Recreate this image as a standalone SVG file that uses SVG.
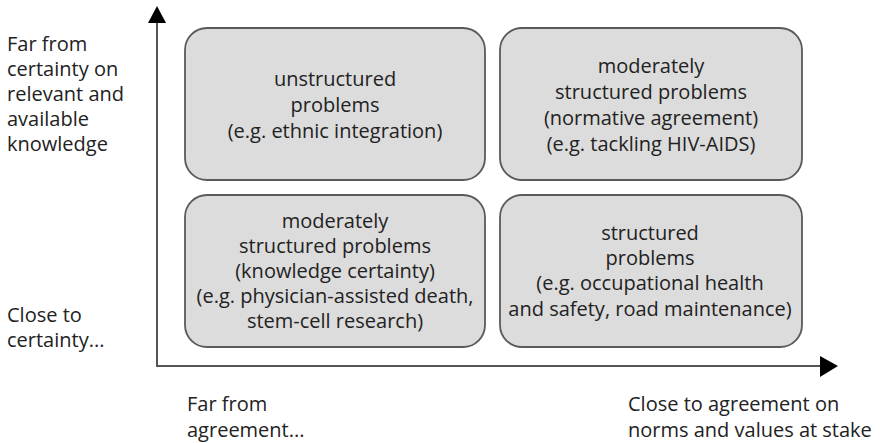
<svg xmlns="http://www.w3.org/2000/svg" width="880" height="443" viewBox="0 0 880 443">
  <style>
    text { font-family: "Open Sans", "Noto Sans", "DejaVu Sans", sans-serif; font-size: 20px; font-weight: 500; fill: #222; }
    .c { text-anchor: middle; }
    .box { fill: #dcdcdc; stroke: #5a5a5a; stroke-width: 1.8; }
    .axis { stroke: #555; stroke-width: 2; fill: none; }
    .head { fill: #000; }
  </style>
  <rect width="880" height="443" fill="#fff"/>

  <!-- axes -->
  <g id="axes">
    <path class="axis" d="M157,22 V366 H822"/>
    <polygon class="head" points="157,6 148,23 166,23"/>
    <polygon class="head" points="838,366 820,356 820,377"/>
  </g>

  <!-- axis labels -->
  <g id="label-y-high">
    <text x="7" y="51">Far from</text>
    <text x="7" y="76">certainty on</text>
    <text x="7" y="101">relevant and</text>
    <text x="7" y="126">available</text>
    <text x="7" y="151">knowledge</text>
  </g>
  <g id="label-y-low">
    <text x="7" y="322">Close to</text>
    <text x="7" y="347">certainty...</text>
  </g>
  <g id="label-x-low">
    <text x="187" y="411">Far from</text>
    <text x="187" y="437">agreement...</text>
  </g>
  <g id="label-x-high">
    <text x="628" y="411">Close to agreement on</text>
    <text x="628" y="437">norms and values at stake</text>
  </g>

  <!-- quadrants -->
  <g id="unstructured">
    <rect class="box" x="185" y="28" width="300" height="152" rx="22"/>
    <text class="c" x="335" y="86">unstructured</text>
    <text class="c" x="335" y="112">problems</text>
    <text class="c" x="335" y="138">(e.g. ethnic integration)</text>
  </g>
  <g id="moderately-normative">
    <rect class="box" x="500" y="28" width="302" height="152" rx="22"/>
    <text class="c" x="651" y="73">moderately</text>
    <text class="c" x="651" y="99">structured problems</text>
    <text class="c" x="651" y="125">(normative agreement)</text>
    <text class="c" x="651" y="151">(e.g. tackling HIV-AIDS)</text>
  </g>
  <g id="moderately-knowledge">
    <rect class="box" x="185" y="195" width="300" height="152" rx="22"/>
    <text class="c" x="335" y="228">moderately</text>
    <text class="c" x="335" y="253">structured problems</text>
    <text class="c" x="335" y="278">(knowledge certainty)</text>
    <text class="c" x="335" y="303">(e.g. physician-assisted death,</text>
    <text class="c" x="335" y="328">stem-cell research)</text>
  </g>
  <g id="structured">
    <rect class="box" x="500" y="195" width="302" height="152" rx="22"/>
    <text class="c" x="650" y="240">structured</text>
    <text class="c" x="650" y="265">problems</text>
    <text class="c" x="650" y="290">(e.g. occupational health</text>
    <text class="c" x="650" y="316">and safety, road maintenance)</text>
  </g>
</svg>
